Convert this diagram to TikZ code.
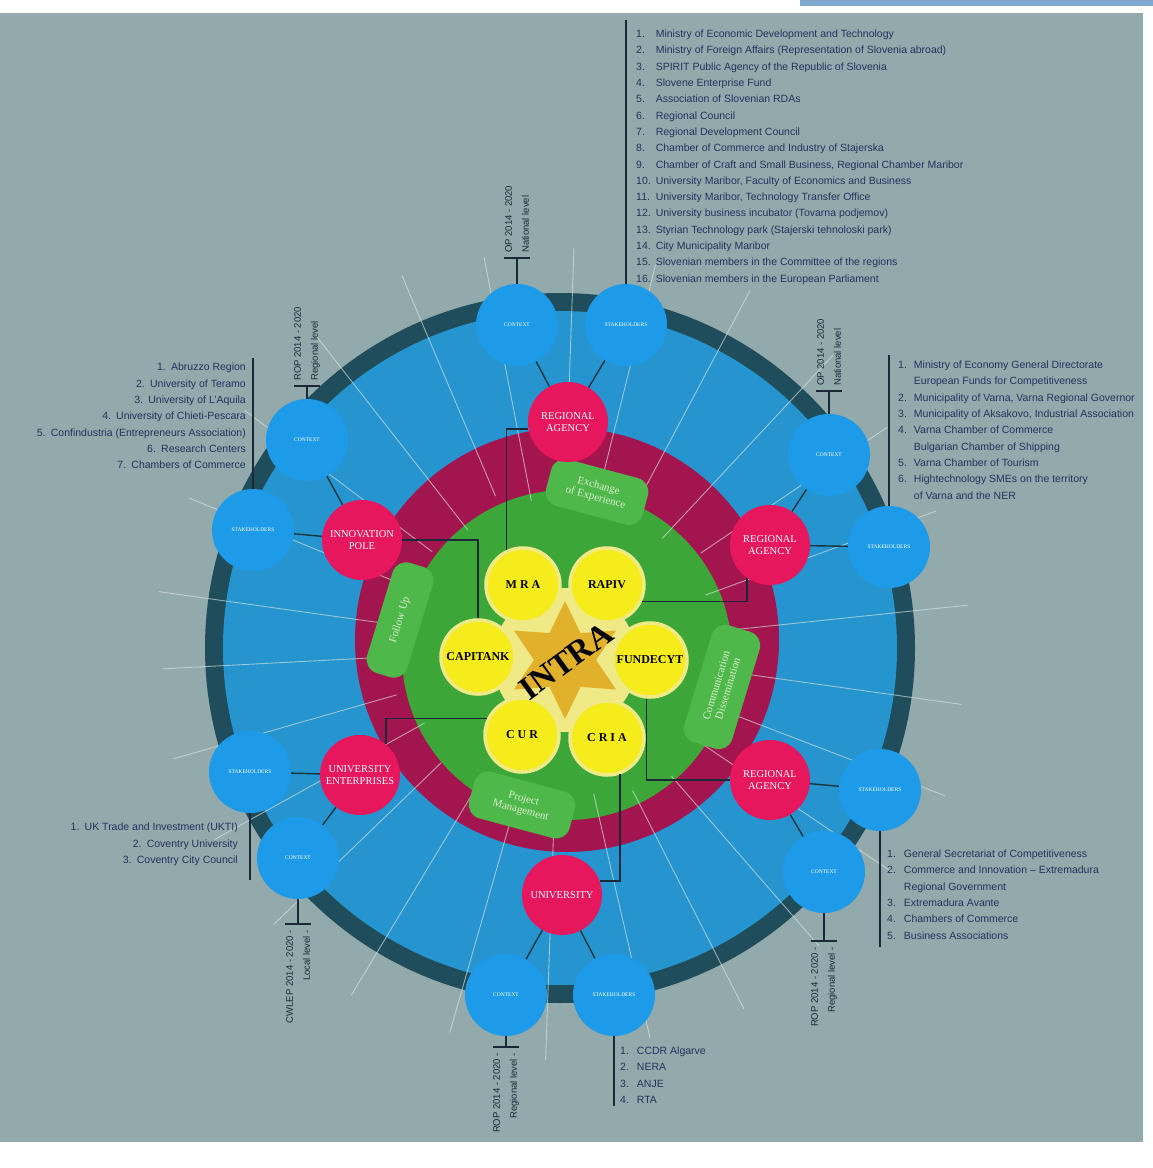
\documentclass[tikz,border=0pt]{standalone}
\usepackage{fontspec}
\setmainfont{Liberation Serif}
\setsansfont{Liberation Sans}
\usetikzlibrary{shapes.geometric, positioning, calc}
\definecolor{paper}{HTML}{92AAAC}
\definecolor{topBlue}{HTML}{7FA8CF}
\definecolor{ringDark}{HTML}{1F4D5C}
\definecolor{discBlue}{HTML}{2594CF}
\definecolor{nodeBlue}{HTML}{1E9BE8}
\definecolor{maroonRing}{HTML}{A3154F}
\definecolor{leafGreen}{HTML}{3DA639}
\definecolor{blobGreen}{HTML}{4FB84A}
\definecolor{blobText}{HTML}{DCEFD2}
\definecolor{pinkRed}{HTML}{E6175C}
\definecolor{sun}{HTML}{F6EC1C}
\definecolor{sunGlow}{HTML}{EFEA86}
\definecolor{starGold}{HTML}{E2B12C}
\definecolor{ink}{HTML}{1B2838}
\definecolor{listInk}{HTML}{22335E}
\definecolor{rayPale}{HTML}{D8E4DE}
\def\cx{560}
\def\cy{648}

\begin{document}
\begin{tikzpicture}[
    x=1pt, y=-1pt,
    every node/.style={inner sep=0pt},
    yellowbox/.style={circle, minimum size=74, fill=sun, draw=sunGlow, line width=3.5pt,
                      font=\bfseries\fontsize{12}{12}\selectfont},
    redbox/.style={circle, minimum size=80, fill=pinkRed, text=white, align=center,
                   font=\fontsize{10.5}{12}\selectfont},
    bluebox/.style={circle, minimum size=82, fill=nodeBlue, text=white,
                    font=\fontsize{5.5}{6}\selectfont},
    blob/.style={rounded corners=14, fill=blobGreen, text=blobText, align=center,
                 font=\fontsize{11}{12}\selectfont},
    link/.style={draw=ink, line width=1.6pt},
    spoke/.style={draw=ringDark!70!black, line width=1.4pt},
    ray/.style={draw=rayPale, line width=0.9pt, opacity=.65},
    bar/.style={draw=ink, line width=1.6pt},
    listtext/.style={font=\sffamily\fontsize{10.5}{16.3}\selectfont, text=listInk},
    tagtext/.style={font=\sffamily\fontsize{9.5}{17}\selectfont, text=ink, rotate=90},
    ]
\useasboundingbox (0,0) rectangle (1153,1168);

% ====================================================================
% Background and rings
% ====================================================================
\fill[white] (0,0) rectangle (1153,1168);
\fill[paper] (0,13) rectangle (1143,1142);
\fill[topBlue] (800,0) rectangle (1153,6);

\fill[ringDark] (\cx,\cy) circle (355);
\fill[discBlue] (\cx,\cy) circle (337);
\fill[maroonRing] (567,640) circle (212);
\fill[leafGreen] (567,655) circle (165);

% pale rays running out across the rings
\foreach \a/\ra/\rb in {-172/150/405, -158/170/400, -143/160/395, -128/150/400,
                        -113/165/405, -101/150/398, -88/175/400, -76/160/395,
                        -62/165/405, -47/150/400, -34/170/395, -20/155/400,
                        -6/165/410, 8/150/405, 21/165/412, 34/155/400,
                        49/170/395, 63/160/405, 77/150/400, 92/165/412,
                        106/160/400, 121/150/405, 136/165/398, 151/155/395,
                        164/170/402, 177/160/398}
  \draw[ray] ($(\cx,\cy)+(\a:\ra)$) -- ($(\cx,\cy)+(\a:\rb)$);

% ====================================================================
% INTRA core
% ====================================================================
\fill[sunGlow] (565,660) circle (72);
\node[star, star points=6, star point ratio=1.9, minimum size=118, fill=starGold]
  (star) at (565,660) {};

\node[yellowbox] (mra)   at (523,585) {M\hspace{3pt}R\hspace{3pt}A};
\node[yellowbox] (rapiv) at (607,585) {RAPIV};
\node[yellowbox] (capi)  at (478,657) {CAPITANK};
\node[yellowbox] (fund)  at (650,660) {FUNDECYT};
\node[yellowbox] (cur)   at (522,735) {C\hspace{3pt}U\hspace{3pt}R};
\node[yellowbox] (cria)  at (607,738) {C\hspace{3pt}R\hspace{3pt}I\hspace{3pt}A};

\node[rotate=36, font=\bfseries\fontsize{33}{33}\selectfont] (intra) at (566,661) {INTRA};

% activity blobs on the green disc
\node[blob, rotate=-15, minimum width=100, minimum height=48] (exch) at (597,492)
  {Exchange\\of Experience};
\node[blob, rotate=73, minimum width=115, minimum height=42] (follow) at (400,620)
  {Follow Up};
\node[blob, rotate=73, minimum width=122, minimum height=50] (comm) at (722,687)
  {Communication\\Dissemination};
\node[blob, rotate=-15, minimum width=104, minimum height=48] (proj) at (522,805)
  {Project\\Management};

% ====================================================================
% Partner circles
% ====================================================================
\node[redbox] (ra1)  at (568,422) {REGIONAL\\AGENCY};
\node[redbox] (inno) at (362,540) {INNOVATION\\POLE};
\node[redbox] (ra2)  at (770,545) {REGIONAL\\AGENCY};
\node[redbox] (ue)   at (360,775) {UNIVERSITY\\ENTERPRISES};
\node[redbox] (ra3)  at (770,780) {REGIONAL\\AGENCY};
\node[redbox] (univ) at (562,895) {UNIVERSITY};

\node[bluebox] (ctx1) at (517,325) {CONTEXT};
\node[bluebox] (stk1) at (626,325) {STAKEHOLDERS};
\node[bluebox] (ctx2) at (307,440) {CONTEXT};
\node[bluebox] (stk2) at (253,530) {STAKEHOLDERS};
\node[bluebox] (ctx3) at (829,455) {CONTEXT};
\node[bluebox] (stk3) at (889,547) {STAKEHOLDERS};
\node[bluebox] (stk4) at (250,772) {STAKEHOLDERS};
\node[bluebox] (ctx4) at (298,858) {CONTEXT};
\node[bluebox] (stk5) at (880,790) {STAKEHOLDERS};
\node[bluebox] (ctx5) at (824,872) {CONTEXT};
\node[bluebox] (ctx6) at (506,995) {CONTEXT};
\node[bluebox] (stk6) at (614,995) {STAKEHOLDERS};

% red to blue
\draw[spoke] (ra1) -- (ctx1);  \draw[spoke] (ra1) -- (stk1);
\draw[spoke] (inno) -- (ctx2); \draw[spoke] (inno) -- (stk2);
\draw[spoke] (ra2) -- (ctx3);  \draw[spoke] (ra2) -- (stk3);
\draw[spoke] (ue) -- (stk4);   \draw[spoke] (ue) -- (ctx4);
\draw[spoke] (ra3) -- (stk5);  \draw[spoke] (ra3) -- (ctx5);
\draw[spoke] (univ) -- (ctx6); \draw[spoke] (univ) -- (stk6);

% partners to their agencies
\draw[link] (mra.115) |- (ra1.190);
\draw[link] (inno.east) -| (capi.north);
\draw[link] (rapiv.-25) -| (ra2.235);
\draw[link] (cur.155) -| (ue.50);
\draw[link] (fund.265) |- (ra3.west);
\draw[link] (cria.-70) |- (univ.20);

% ====================================================================
% Programme tags (T markers)
% ====================================================================
\coordinate (t1) at (517,258);
\coordinate (t2) at (307,386);
\coordinate (t3) at (829,391);
\coordinate (t4) at (298,924);
\coordinate (t5) at (824,941);
\coordinate (t6) at (506,1047);
\draw[bar] (ctx1.north) -- (t1); \draw[bar] ([xshift=-13pt]t1) -- ([xshift=13pt]t1);
\draw[bar] (ctx2.north) -- (t2); \draw[bar] ([xshift=-13pt]t2) -- ([xshift=13pt]t2);
\draw[bar] (ctx3.north) -- (t3); \draw[bar] ([xshift=-13pt]t3) -- ([xshift=13pt]t3);
\draw[bar] (ctx4.south) -- (t4); \draw[bar] ([xshift=-13pt]t4) -- ([xshift=13pt]t4);
\draw[bar] (ctx5.south) -- (t5); \draw[bar] ([xshift=-13pt]t5) -- ([xshift=13pt]t5);
\draw[bar] (ctx6.south) -- (t6); \draw[bar] ([xshift=-13pt]t6) -- ([xshift=13pt]t6);

\node[tagtext, anchor=west, align=left] (tag1) at (517,253) {OP 2014 - 2020\\National level};
\node[tagtext, anchor=west, align=left] (tag2) at (307,381) {ROP 2014 - 2020\\Regional level};
\node[tagtext, anchor=west, align=left] (tag3) at (829,386) {OP 2014 - 2020\\National level};
\node[tagtext, anchor=east, align=right] (tag4) at (298,930) {CWLEP 2014 - 2020 -\\Local level -};
\node[tagtext, anchor=east, align=right] (tag5) at (824,947) {ROP 2014 - 2020 -\\Regional level -};
\node[tagtext, anchor=east, align=right] (tag6) at (506,1053) {ROP 2014 - 2020 -\\Regional level -};

% ====================================================================
% Stakeholder lists
% ====================================================================
\coordinate (b1) at (626,20);
\coordinate (b2) at (253,358);
\coordinate (b3) at (889,355);
\coordinate (b4) at (250,880);
\coordinate (b5) at (880,947);
\coordinate (b6) at (614,1106);
\draw[bar] (stk1.north) -- (b1);
\draw[bar] (stk2.north) -- (b2);
\draw[bar] (stk3.north) -- (b3);
\draw[bar] (stk4.south) -- (b4);
\draw[bar] (stk5.south) -- (b5);
\draw[bar] (stk6.south) -- (b6);

\node[listtext, anchor=north west] (list1) at (636,26) {%
  \begin{tabular}{@{}l@{\hspace{5pt}}l@{}}
  1. & Ministry of Economic Development and Technology\\
  2. & Ministry of Foreign Affairs (Representation of Slovenia abroad)\\
  3. & SPIRIT Public Agency of the Republic of Slovenia\\
  4. & Slovene Enterprise Fund\\
  5. & Association of Slovenian RDAs\\
  6. & Regional Council\\
  7. & Regional Development Council\\
  8. & Chamber of Commerce and Industry of Stajerska\\
  9. & Chamber of Craft and Small Business, Regional Chamber Maribor\\
  10. & University Maribor, Faculty of Economics and Business\\
  11. & University Maribor, Technology Transfer Office\\
  12. & University business incubator (Tovarna podjemov)\\
  13. & Styrian Technology park (Stajerski tehnoloski park)\\
  14. & City Municipality Maribor\\
  15. & Slovenian members in the Committee of the regions\\
  16. & Slovenian members in the European Parliament
  \end{tabular}};

\node[listtext, anchor=north east, align=right] (list2) at (246,363) {%
  1.\enspace Abruzzo Region\\
  2.\enspace University of Teramo\\
  3.\enspace University of L'Aquila\\
  4.\enspace University of Chieti-Pescara\\
  5.\enspace Confindustria (Entrepreneurs Association)\\
  6.\enspace Research Centers\\
  7.\enspace Chambers of Commerce};

\node[listtext, anchor=north west] (list3) at (898,357) {%
  \begin{tabular}{@{}l@{\hspace{7pt}}l@{}}
  1. & Ministry of Economy General Directorate\\
     & European Funds for Competitiveness\\
  2. & Municipality of Varna, Varna Regional Governor\\
  3. & Municipality of Aksakovo, Industrial Association\\
  4. & Varna Chamber of Commerce\\
     & Bulgarian Chamber of Shipping\\
  5. & Varna Chamber of Tourism\\
  6. & Hightechnology SMEs on the territory\\
     & of Varna and the NER
  \end{tabular}};

\node[listtext, anchor=north east, align=right] (list4) at (238,823) {%
  1.\enspace UK Trade and Investment (UKTI)\\
  2.\enspace Coventry University\\
  3.\enspace Coventry City Council};

\node[listtext, anchor=north west] (list5) at (887,846) {%
  \begin{tabular}{@{}l@{\hspace{8pt}}l@{}}
  1. & General Secretariat of Competitiveness\\
  2. & Commerce and Innovation -- Extremadura\\
     & Regional Government\\
  3. & Extremadura Avante\\
  4. & Chambers of Commerce\\
  5. & Business Associations
  \end{tabular}};

\node[listtext, anchor=north west] (list6) at (620,1043) {%
  \begin{tabular}{@{}l@{\hspace{8pt}}l@{}}
  1. & CCDR Algarve\\
  2. & NERA\\
  3. & ANJE\\
  4. & RTA
  \end{tabular}};

\end{tikzpicture}
\end{document}
